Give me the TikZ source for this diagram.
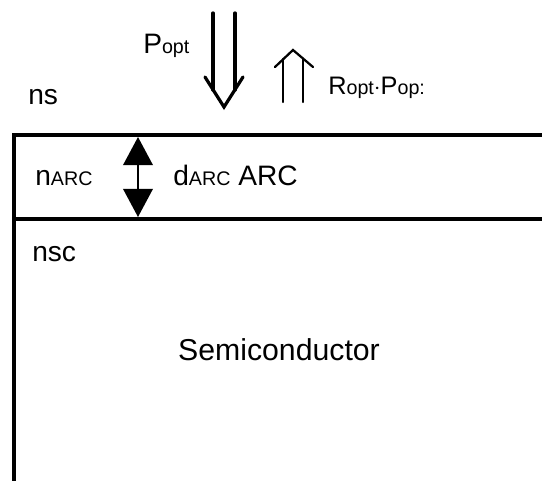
\documentclass[tikz,border=0pt]{standalone}
\usepackage{fontspec}
\setmainfont{Liberation Sans}
\usepackage{tikz}
\usetikzlibrary{arrows.meta,positioning,calc}

\newcommand{\labsize}{\fontsize{20}{24}\selectfont}
\newcommand{\lo}[1]{{\fontsize{14}{14}\selectfont #1}}

\begin{document}
\begin{tikzpicture}[x=0.025cm, y=-0.025cm,
    lab/.style={anchor=base west, inner sep=0pt, font=\labsize},
    layer/.style={line width=3pt, line join=miter},
    beamin/.style={line width=2.3pt, line cap=round, line join=miter},
    beamout/.style={line width=1.6pt, line cap=round, line join=miter},
    thickarr/.style={-{Triangle[length=20pt,width=21pt]}, line width=1.5pt}]

    \useasboundingbox (0,0) rectangle (542,481);

    % Layers
    \coordinate (TR) at (542,135);
    \coordinate (TL) at (14,135);
    \coordinate (BL) at (14,481);
    \coordinate (AL) at (14,219);
    \coordinate (AR) at (542,219);
    \draw[layer] (TR) -- (TL) -- (BL);
    \draw[layer] (AL) -- (AR);

    % Labels
    \node[lab] (ns) at (28,104) {ns};
    \node[lab] (narc) at (35,185) {n\lo{ARC}};
    \node[lab] (darc) at (173,185) {d\lo{ARC} ARC};
    \node[lab] (nsc) at (32,261) {nsc};
    \node[anchor=base, inner sep=0pt, font=\fontsize{21.5}{26}\selectfont] (semi) at (279,360) {Semiconductor};
    \node[lab] (popt) at (143,53) {P\lo{opt}};
    \node[lab, font=\fontsize{18}{22}\selectfont] (ropt) at (328,94) {R\lo{opt}$\cdot$P\lo{op:}};

    % Thickness arrow
    \coordinate (d1) at (138,176);
    \coordinate (d2) at (138,137);
    \coordinate (d3) at (138,217);
    \draw[thickarr] (d1) -- (d2);
    \draw[thickarr] (d1) -- (d3);

    % Incoming light
    \coordinate (i1) at (213,13);
    \coordinate (i2) at (213,90);
    \coordinate (i3) at (235,13);
    \coordinate (i4) at (235,90);
    \coordinate (iw1) at (205,77);
    \coordinate (itip) at (224,107);
    \coordinate (iw2) at (243,77);
    \draw[beamin] (i1) -- (i2);
    \draw[beamin] (i3) -- (i4);
    \draw[beamin] (iw1) -- (itip) -- (iw2);

    % Reflected light
    \coordinate (r1) at (283,102);
    \coordinate (r2) at (283,59);
    \coordinate (r3) at (303,102);
    \coordinate (r4) at (303,59);
    \coordinate (rw1) at (275,67);
    \coordinate (rtip) at (293,50);
    \coordinate (rw2) at (313,67);
    \draw[beamout] (r1) -- (r2);
    \draw[beamout] (r3) -- (r4);
    \draw[beamout] (rw1) -- (rtip) -- (rw2);

\end{tikzpicture}
\end{document}
